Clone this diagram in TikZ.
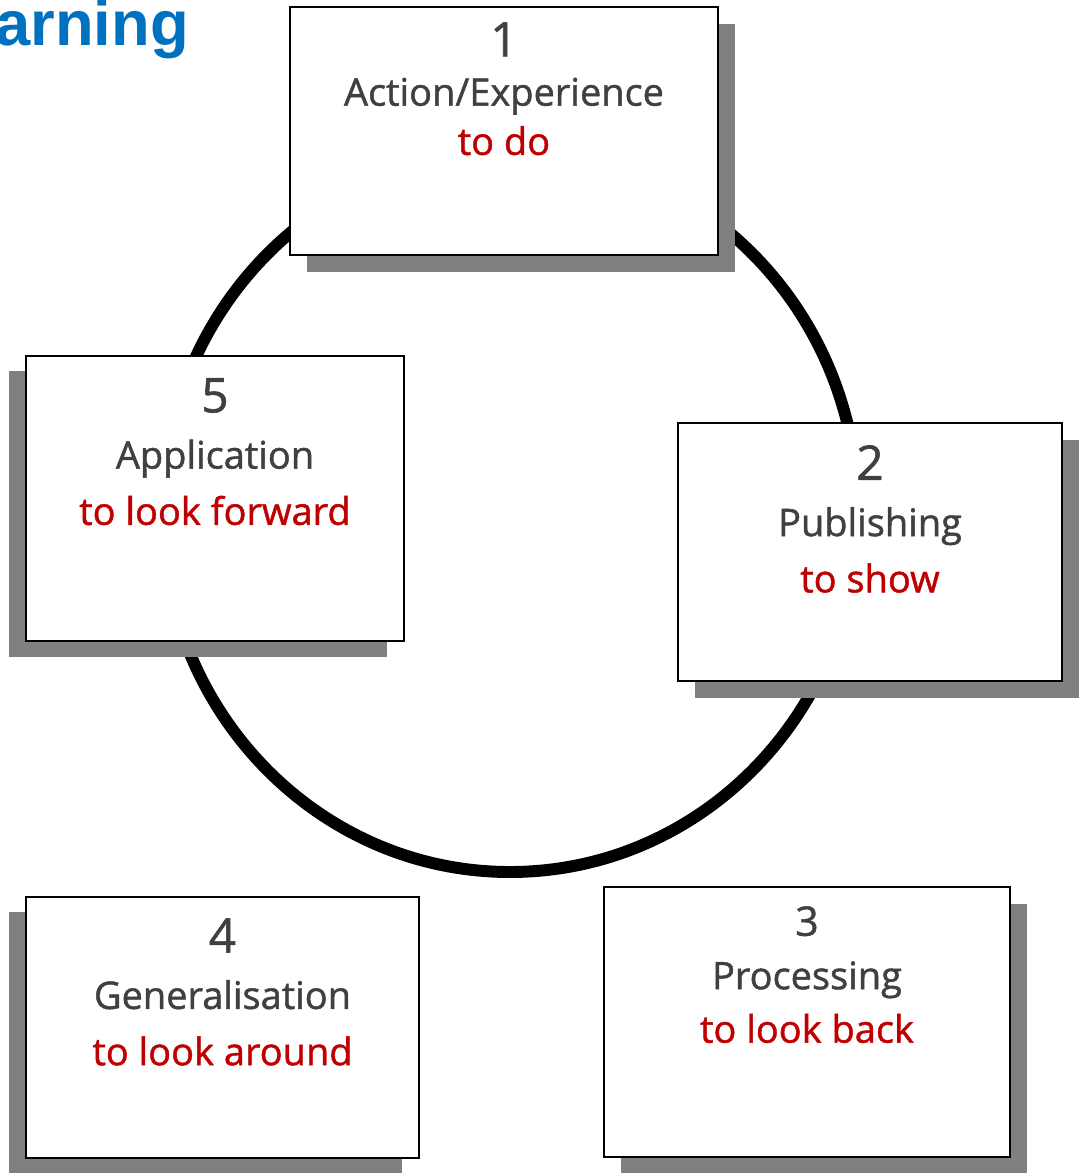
\documentclass[tikz,border=0pt]{standalone}
\usepackage{fontspec}
\setmainfont{Open Sans}[FakeBold=1.2]
\newfontfamily\titlefont{Liberation Sans}
\usetikzlibrary{shadows}

\definecolor{titleblue}{HTML}{0070C0}
\definecolor{stagegray}{HTML}{404040}
\definecolor{stagered}{HTML}{C00000}
\definecolor{shadowgray}{HTML}{808080}

\newcommand\stagenum[2][34]{{\fontsize{#1}{40}\selectfont #2}}
\newcommand\stagewhy[1]{\textcolor{stagered}{#1}}

\begin{document}
\begin{tikzpicture}[x=0.025cm, y=-0.025cm,
    stage/.style={draw=black, fill=white, line width=1.4pt, inner sep=0pt, outer sep=0pt},
    shadowse/.style={drop shadow={shadow xshift=12pt, shadow yshift=-12pt, fill=shadowgray, opacity=1}},
    shadowsw/.style={drop shadow={shadow xshift=-12pt, shadow yshift=-11pt, fill=shadowgray, opacity=1}},
    stagetext/.style={anchor=north, align=center, inner sep=0pt, text=stagegray,
      font=\fontsize{27}{40}\selectfont},
    ring/.style={line width=8.5pt}]
  \useasboundingbox (0,0) rectangle (1081,1173);

  \node[anchor=base east, inner sep=0pt, text=titleblue,
    font=\titlefont\bfseries\fontsize{45}{54}\selectfont] (title) at (189,45) {arning};

  % the cycle
  \draw[ring] (510,512) ellipse [x radius=348, y radius=360];

  % stages
  \node[stage, shadowse, minimum width=10.7cm, minimum height=6.2cm]    (act)  at (504,131)    {};
  \node[stage, shadowse, minimum width=9.6cm, minimum height=6.45cm]    (pub)  at (870,552)    {};
  \node[stage, shadowse, minimum width=10.15cm, minimum height=6.75cm]  (proc) at (807,1022)   {};
  \node[stage, shadowsw, minimum width=9.825cm, minimum height=6.525cm] (gen)  at (222.5,1027.5) {};
  \node[stage, shadowsw, minimum width=9.45cm, minimum height=7.125cm]  (app)  at (215,498.5)  {};

  \node[stagetext, font=\fontsize{27}{35}\selectfont] (act-t) at ([yshift=-10.7pt]act.north)
    {\stagenum{1}\\ Action/Experience\\ \stagewhy{to do}};
  \node[stagetext] (pub-t) at ([yshift=-15.6pt]pub.north)
    {\stagenum{2}\\ Publishing\\ \stagewhy{to show}};
  \node[stagetext, font=\fontsize{27}{38}\selectfont] (proc-t) at ([yshift=-13.5pt]proc.north)
    {\stagenum[29]{3}\\ Processing\\ \stagewhy{to look back}};
  \node[stagetext] (gen-t) at ([yshift=-15pt]gen.north)
    {\stagenum{4}\\ Generalisation\\ \stagewhy{to look around}};
  \node[stagetext] (app-t) at ([yshift=-15.6pt]app.north)
    {\stagenum{5}\\ Application\\ \stagewhy{to look forward}};

\end{tikzpicture}
\end{document}
